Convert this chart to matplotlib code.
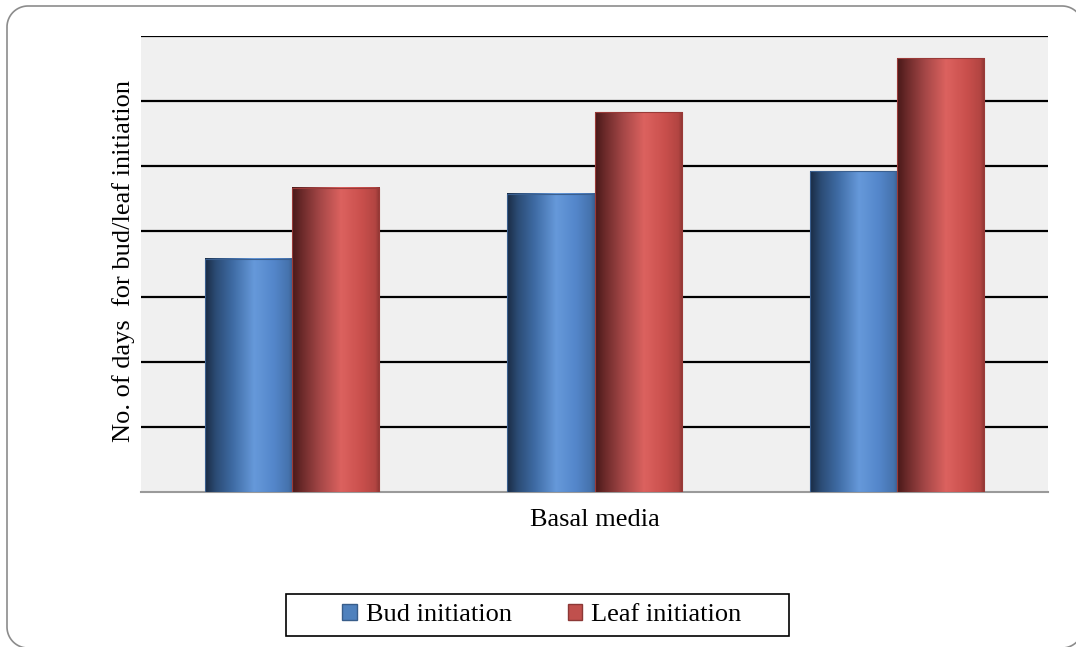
import numpy as np
import matplotlib
matplotlib.use("Agg")
import matplotlib.pyplot as plt
from matplotlib.colors import LinearSegmentedColormap
from matplotlib.patches import Polygon, Rectangle, Patch

# Dias até a iniciação de gemas/folhas em três meios basais
grupos = ["Meio 1", "Meio 2", "Meio 3"]
gemas = [17.9, 22.9, 24.6]
folhas = [23.35, 29.15, 33.3]
series = ["Bud initiation", "Leaf initiation"]

plt.rcParams['font.family'] = ['Liberation Serif', 'DejaVu Serif']

# Degradês tipo cilindro (estilo Excel)
cmap_azul = LinearSegmentedColormap.from_list("azul", [
    (0.0, "#1a2c44"), (0.12, "#2b4b74"), (0.32, "#3f6ca5"),
    (0.56, "#6699da"), (0.78, "#5487cb"), (0.95, "#4673ae"), (1.0, "#3a5f90")])
cmap_verm = LinearSegmentedColormap.from_list("verm", [
    (0.0, "#481818"), (0.12, "#6e2b2b"), (0.32, "#a54747"),
    (0.56, "#dc625f"), (0.8, "#c94f4c"), (0.95, "#b24542"), (1.0, "#8a3431")])

W, H = 1076, 647
fig = plt.figure(figsize=(W / 100, H / 100), dpi=100)
ax = fig.add_axes([141/W, 1 - 492/H, 907/W, 456/H])
ax.set_facecolor("#f0f0f0")

x = np.arange(len(grupos))
largura = 0.288
degrade = np.linspace(0, 1, 256).reshape(1, -1)

for xs, valores, cmap, borda in [(x - largura/2, gemas, cmap_azul, "#3a5f8f"),
                                 (x + largura/2, folhas, cmap_verm, "#9a3a38")]:
    barras = ax.bar(xs, valores, largura, color="none", edgecolor=borda,
                    linewidth=0.8, zorder=4)
    for b in barras:
        x0, h, w = b.get_x(), b.get_height(), b.get_width()
        ax.imshow(degrade, extent=[x0, x0 + w, 0, h], aspect='auto',
                  cmap=cmap, zorder=3, interpolation='bilinear')

ax.set_xlim(-0.5, 2.5)
ax.set_ylim(0, 35)
ax.set_yticks(np.arange(5, 36, 5))
ax.set_xticks([])
ax.tick_params(axis='y', length=0, labelleft=False)
ax.yaxis.grid(True, color="black", linewidth=1.6)
ax.set_axisbelow(True)
for lado in ["top", "left", "right"]:
    ax.spines[lado].set_visible(False)
ax.spines["bottom"].set_color("#9a9a9a")
ax.spines["bottom"].set_linewidth(1.5)

ax.set_xlabel("Basal media", fontsize=19)
ax.xaxis.set_label_coords(0.5, -0.0614)
ax.xaxis.label.set_va("center")
ax.set_ylabel("No. of days  for bud/leaf initiation", fontsize=19)
ax.yaxis.set_label_coords(-0.0198, 0.5055)
ax.yaxis.label.set_va("center")


# Moldura arredondada externa, em pixels (y para cima); sai pela direita e por baixo
def arco(cx, cy, r, a0, a1):
    t = np.radians(np.linspace(a0, a1, 24))
    return np.column_stack([cx + r * np.cos(t), cy + r * np.sin(t)])


r = 21
esq, dir_, topo, base = 7, 1083, H - 6, -1
contorno = np.vstack([
    arco(esq + r, topo - r, r, 180, 90),
    arco(dir_ - r, topo - r, r, 90, 0),
    arco(dir_ - r, base + r, r, 0, -90),
    arco(esq + r, base + r, r, 270, 180),
]) / 100
moldura = Polygon(contorno, closed=True, fill=False, edgecolor="#8c8c8c",
                  linewidth=1.2, transform=fig.dpi_scale_trans)
fig.add_artist(moldura)

# Caixa da legenda
caixa = Rectangle((286/W, 1 - 636/H), 503/W, 42/H, transform=fig.transFigure,
                  facecolor="white", edgecolor="black", linewidth=1.2)
fig.add_artist(caixa)
handles = [Patch(facecolor="#4f81bd", edgecolor="#385d8a", label=series[0]),
           Patch(facecolor="#c0504d", edgecolor="#8c3836", label=series[1])]
fig.legend(handles=handles, loc="center", bbox_to_anchor=(542/W, 1 - 615/H),
           ncol=2, frameon=False, fontsize=19, handlelength=0.55, handleheight=0.55,
           handletextpad=0.35, columnspacing=2.1)

fig.savefig("out.png", dpi=100)
